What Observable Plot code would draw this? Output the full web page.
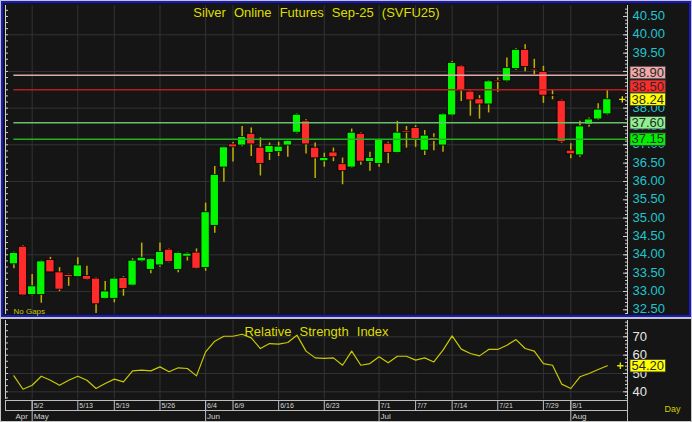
<!DOCTYPE html>
<html><head><meta charset="utf-8">
<script src="https://cdn.jsdelivr.net/npm/d3@7"></script>
<script src="https://cdn.jsdelivr.net/npm/@observablehq/plot@0.6"></script>
<style>
html,body{margin:0;padding:0;background:#c4c4c4;width:692px;height:422px;overflow:hidden;}
#p1{position:absolute;left:1px;top:1px;width:690px;height:316px;box-sizing:border-box;border:2px solid #1717c6;background:#151515;}
#p2{position:absolute;left:1px;top:319px;width:690px;height:102px;background:#151515;}
svg{display:block}
g[fill="#dede00"] text, g[fill="#dcdc00"] text{word-spacing:4.5px}
</style></head><body>
<div id="p1"></div><div id="p2"></div>
<script>
// ---- data ----
const title = "Silver Online Futures Sep-25 (SVFU25)";
const rsiTitle = "Relative Strength Index";
const noGaps = "No Gaps";
const periodLabel = "Day";
const openP  = [33.74,34.22,32.90,32.90,33.86,33.52,33.45,33.39,33.42,33.35,32.80,32.80,33.37,33.16,33.82,33.59,33.71,34.14,33.59,33.95,34.06,33.64,34.79,36.38,37.01,36.98,37.30,36.92,36.78,36.80,36.98,37.33,37.64,36.92,36.55,36.79,36.47,36.38,37.30,36.53,36.48,37.03,36.78,37.37,37.46,36.84,37.19,36.98,37.80,39.14,38.45,38.24,38.10,38.75,38.73,39.07,39.59,39.07,38.99,38.35,38.20,36.84,36.71,37.55,37.69,37.83];
const highP  = [34.07,34.25,33.46,33.84,33.93,33.65,33.47,33.92,33.69,33.37,33.27,33.37,33.40,33.89,34.32,33.90,34.32,34.16,34.07,34.05,34.16,35.41,36.41,36.95,37.06,37.50,37.46,37.19,37.05,37.07,37.12,37.84,37.68,37.05,36.77,36.91,36.64,37.43,37.32,36.80,37.16,37.07,37.64,37.50,37.52,37.39,37.30,37.85,39.27,39.16,38.47,38.34,38.75,38.82,39.37,39.62,39.73,39.33,39.14,38.48,38.22,37.03,37.64,37.73,38.12,38.48];
const lowP   = [33.62,32.88,32.88,32.68,33.52,33.00,33.14,33.38,33.30,32.40,32.78,32.69,32.87,33.15,33.80,33.48,33.66,33.78,33.51,33.83,33.60,33.55,34.59,35.98,36.53,36.95,36.68,36.15,36.57,36.68,36.66,37.30,36.75,36.08,36.39,36.54,35.91,36.36,36.44,36.28,36.39,36.48,36.76,36.91,36.93,36.71,36.84,36.80,37.78,38.18,37.78,37.70,37.87,38.43,38.71,39.03,38.99,38.91,38.13,38.23,37.04,36.62,36.66,37.48,37.67,37.81];
const closeP = [34.05,32.89,33.14,33.82,33.52,33.05,33.39,33.71,33.32,32.65,33.00,33.35,33.07,33.84,33.92,33.88,34.08,33.80,34.05,34.03,33.62,35.16,36.18,36.93,36.93,37.21,37.01,36.48,36.97,36.95,37.10,37.82,37.01,36.63,36.64,36.66,36.28,37.33,36.54,36.64,37.14,36.78,37.33,37.33,37.16,37.25,37.10,37.83,39.23,38.48,38.21,38.10,38.73,38.71,39.09,39.59,39.12,39.03,38.34,38.33,37.07,36.74,37.50,37.69,37.96,38.24];
const rsiVals = [48.7,41.4,43.6,48.5,46.3,43.6,46.3,48.5,46.3,41.8,44.5,46.9,45.4,51.4,51.8,51.4,53.6,50.9,53.1,52.7,48.7,61.8,67.6,70.3,70.3,71.4,69.4,63.6,66.3,66.0,66.9,70.9,62.2,58.5,58.2,58.5,54.5,62.2,54.5,55.4,59.1,55.8,59.4,59.4,57.3,58.5,56.3,62.7,70.5,63.3,60.9,59.6,63.1,63.1,65.4,68.5,63.6,62.2,55.4,54.5,44.2,41.8,48.2,50.0,52.2,54.2];
const dayTickIdx = [2,7,11,16,21,24,29,34,40,44,48,53,58,61];
const dayLabels = ["5/2","5/13","5/19","5/26","6/4","6/9","6/16","6/23","7/1","7/7","7/14","7/21","7/29","8/1"];
const monthIdx = [0,2,21,40,61];
const monthLabels = ["Apr","May","Jun","Jul","Aug"];
const priceTicks = [32.5,33,33.5,34,34.5,35,35.5,36,36.5,37,37.5,38,38.5,39,39.5,40,40.5];
const priceGrid = [33,34,35,36,37,38,39,40];
const rsiTicks = [40,50,60,70];
const levelValues = [38.90,38.50,37.60,37.15];

// ---- styles ----
const FONT = "'Liberation Sans', Arial, sans-serif";
const BG = "#151515", GRID = "#333333", AXL = "#cfcfcf";
const BOXTEXT = "#2a2a2a";
const levelLineColors = ["#dfa9a9","#b31e1e","#6cc06c","#22b022"];
const levelBoxColors = ["#f0a8a8","#ff2a2a","#8ef08e","#00f000"];
const levelBoxShift = [-2.5,-3.4,0,0];
const lastBoxColor = "#ffff00";
const xDomain = [-0.92, 67.21];

const candles = closeP.map((c, i) => ({i, o: openP[i], h: highP[i], l: lowP[i], c}));
const lastI = candles.length - 1;
const lastClose = closeP[lastI];
const lastRsi = rsiVals[rsiVals.length - 1];
const yDom1 = [32.372, 40.799];
const yDom2 = [35.8, 78.9];
const leftMinor1 = d3.range(192, 246).map(k => k / 6).filter(v => v > yDom1[0] && v < yDom1[1]);
const rightMinor1 = d3.range(324, 408).map(k => k / 10).filter(v => v > yDom1[0] && v < yDom1[1]);
const leftMinor2 = d3.range(11, 24).map(k => k * 10 / 3).filter(v => v > yDom2[0] && v < yDom2[1]);
const rightMinor2 = d3.range(18, 40).map(k => k * 2).filter(v => v > yDom2[0] && v < yDom2[1]);

function addBoxes(svg, colors) {
  svg.querySelectorAll(`g[fill="${BOXTEXT}"] text`).forEach((t, k) => {
    const b = t.getBBox();
    const r = document.createElementNS("http://www.w3.org/2000/svg", "rect");
    r.setAttribute("x", b.x - 1.5); r.setAttribute("y", b.y + 1.5);
    r.setAttribute("width", b.width + 3); r.setAttribute("height", b.height - 2.5);
    r.setAttribute("fill", colors[k % colors.length]); r.setAttribute("stroke", "#3a3a3a"); r.setAttribute("stroke-width", "0.8");
    const tr = t.getAttribute("transform"); if (tr) r.setAttribute("transform", tr);
    t.parentNode.insertBefore(r, t);
  });
}

// ---- price panel ----
const plot1 = Plot.plot({
  width: 686, height: 312,
  marginLeft: 2, marginRight: 62, marginTop: 2, marginBottom: 1,
  x: {domain: xDomain, axis: null},
  y: {domain: yDom1, axis: null},
  style: {background: BG, color: "#1fc5cf", fontFamily: FONT, fontSize: "13px", overflow: "visible"},
  marks: [
    Plot.ruleY(priceGrid, {stroke: GRID}),
    Plot.ruleX(dayTickIdx, {stroke: GRID}),
    Plot.ruleX([xDomain[0]], {stroke: AXL}),
    Plot.tickY(leftMinor1, {stroke: AXL, insetRight: 619}),
    Plot.ruleX([xDomain[1]], {stroke: AXL}),
    Plot.tickY(rightMinor1, {stroke: AXL, insetLeft: 620}),
    Plot.tickY(priceTicks, {stroke: AXL, insetLeft: 618}),
    Plot.axisY({anchor: "right", ticks: priceTicks, tickSize: 0, tickPadding: 5, dy: -0.5, tickFormat: d3.format(".2f"), fill: "#1fc5cf", fontSize: 13}),
    Plot.ruleX(candles, {x: "i", y1: "l", y2: "h", stroke: "#bfb000", strokeWidth: 1.5}),
    Plot.rect(candles, {x1: d => d.i - 0.45, x2: d => d.i + 0.45, y1: "o", y2: "c",
      fill: d => d.c >= d.o ? "#00f700" : "#ff2a2a", stroke: "#000", strokeWidth: 0.8}),
    Plot.ruleY(levelValues, {x1: 0, x2: xDomain[1], stroke: (d, i) => levelLineColors[i], strokeWidth: 1.5}),
    Plot.text([title], {frameAnchor: "top", lineAnchor: "top", dy: 2, fill: "#dede00", fontSize: 13}),
    Plot.text([noGaps], {frameAnchor: "bottom-left", textAnchor: "start", lineAnchor: "bottom", dx: 8, dy: -1, fill: "#c8c800", fontSize: 8}),
    ...levelValues.map((v, k) => Plot.text([v], {y: d => d, frameAnchor: "right", textAnchor: "start", dx: 4, dy: levelBoxShift[k],
      text: d => d.toFixed(2), fill: BOXTEXT, fontSize: 13})),
    Plot.text([lastClose], {y: d => d, frameAnchor: "right", textAnchor: "start", dx: 4,
      text: d => d.toFixed(2), fill: BOXTEXT, fontSize: 13}),
    Plot.dot([candles[lastI]], {x: "i", y: "c", symbol: "plus", r: 2.2, stroke: "#e8e800", strokeWidth: 1.3, dx: 15})
  ]
});
document.getElementById("p1").appendChild(plot1);
addBoxes(plot1, [...levelBoxColors, lastBoxColor]);

// ---- RSI panel ----
const plot2 = Plot.plot({
  width: 690, height: 80,
  marginLeft: 4, marginRight: 64, marginTop: 1, marginBottom: 0,
  x: {domain: xDomain, axis: null},
  y: {domain: yDom2, axis: null},
  style: {background: BG, color: "#e6e6e6", fontFamily: FONT, fontSize: "13px"},
  marks: [
    Plot.ruleY(rsiTicks, {stroke: GRID}),
    Plot.ruleX(dayTickIdx, {stroke: GRID}),
    Plot.ruleX([xDomain[0]], {stroke: AXL}),
    Plot.tickY(leftMinor2, {stroke: AXL, insetRight: 619}),
    Plot.ruleX([xDomain[1]], {stroke: AXL}),
    Plot.tickY(rightMinor2, {stroke: AXL, insetLeft: 620}),
    Plot.tickY(rsiTicks, {stroke: AXL, insetLeft: 618}),
    Plot.axisY({anchor: "right", ticks: rsiTicks, tickSize: 0, tickPadding: 5, fill: "#e6e6e6", fontSize: 13}),
    Plot.line(rsiVals, {x: (d, i) => i, y: d => d, stroke: "#c9c900", strokeWidth: 1.2}),
    Plot.text([rsiTitle], {frameAnchor: "top", lineAnchor: "top", dy: 6.5, fill: "#dcdc00", fontSize: 13}),
    Plot.text([lastRsi], {y: d => d, frameAnchor: "right", textAnchor: "start", dx: 4,
      text: d => d.toFixed(2), fill: BOXTEXT, fontSize: 13}),
    Plot.dot([lastRsi], {x: lastI, y: d => d, symbol: "plus", r: 2.2, stroke: "#e8e800", strokeWidth: 1.3, dx: 13})
  ]
});
document.getElementById("p2").appendChild(plot2);
addBoxes(plot2, [lastBoxColor]);

// ---- date axis ----
const plot3 = Plot.plot({
  width: 690, height: 22,
  marginLeft: 4, marginRight: 64, marginTop: 0, marginBottom: 0,
  x: {domain: xDomain, axis: null},
  y: {domain: [0, 2], range: [1, 21], axis: null},
  style: {background: BG, color: "#d4d4d4", fontFamily: FONT, fontSize: "8px"},
  marks: [
    Plot.ruleY([0, 1], {stroke: "#bdbdbd"}),
    Plot.ruleX(dayTickIdx, {y1: 0, y2: 1, stroke: "#bdbdbd"}),
    Plot.ruleX(monthIdx.slice(1), {y1: 0, y2: 2.2, stroke: "#bdbdbd"}),
    Plot.ruleX([xDomain[1]], {y1: -0.1, y2: 2.2, stroke: "#bdbdbd"}),
    Plot.ruleX([xDomain[0]], {y1: 0, y2: 1, stroke: "#bdbdbd"}),
    Plot.text(dayTickIdx, {x: d => d, y: 0.55, text: (d, k) => dayLabels[k], textAnchor: "start", dx: 1.5, fontSize: 7, fill: "#d4d4d4"}),
    Plot.text(monthIdx, {x: d => d, y: 1.55, text: (d, k) => monthLabels[k], textAnchor: "start", dx: 1.5, fontSize: 8, fill: "#d4d4d4"}),
    Plot.text([periodLabel], {frameAnchor: "right", textAnchor: "middle", dx: 45, dy: -1.5, fill: "#d0d000", fontSize: 9})
  ]
});
document.getElementById("p2").appendChild(plot3);
</script></body></html>
